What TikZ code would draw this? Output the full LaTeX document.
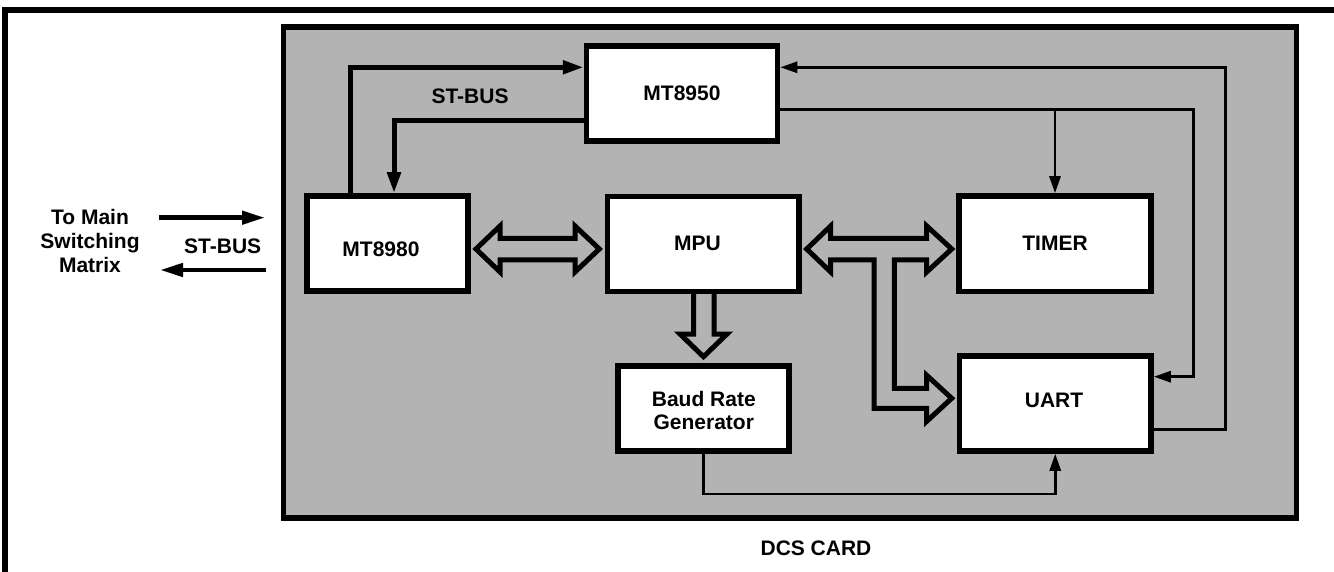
\documentclass[tikz,border=0pt]{standalone}
\usepackage{fontspec}
\setmainfont{Liberation Sans}
\usetikzlibrary{arrows.meta}
\definecolor{cardgrey}{RGB}{179,179,179}
\begin{document}
\begin{tikzpicture}[x=1pt,y=-1pt,
  lbl/.style={font=\fontsize{21}{24}\selectfont\bfseries, inner sep=0pt, align=center},
  blk/.style={draw, line width=5.5pt, fill=white, inner sep=0pt,
    font=\fontsize{21}{22.5}\selectfont\bfseries, align=center},
  bus/.style={line width=5pt, -{Triangle[length=21pt,width=13pt]}},
  ext/.style={line width=4.5pt, -{Triangle[length=23pt,width=13pt]}},
  sig/.style={line width=2.7pt, -{Triangle[length=17pt,width=11pt]}},
  hollow/.style={line width=5pt, line join=miter}
]
\useasboundingbox (0,0) rectangle (1334,572);
% outer frame
\draw[line width=5.3pt] (5,585) -- (5,10) -- (1345,10);
% card
\draw[line width=5.5pt, fill=cardgrey] (283.5,27) rectangle (1296.5,518);
% blocks
\node[blk, minimum width=191pt, minimum height=95pt] (m50) at (682,93.5) {MT8950};
\node[blk, minimum width=161pt, minimum height=95pt] (m80) at (387.5,243.5) {};
\node[lbl] (m80t) at (381,249.5) {MT8980};
\node[blk, minimum width=191.5pt, minimum height=95pt] (mpu) at (703.25,244) {};
\node[lbl] (mput) at (697.5,243) {MPU};
\node[blk, minimum width=192pt, minimum height=95.5pt] (timer) at (1055,243.75) {TIMER};
\node[blk, minimum width=191.5pt, minimum height=95pt] (uart) at (1055.25,403.5) {};
\node[lbl] (uartt) at (1054,400.5) {UART};
\node[blk, minimum width=171pt, minimum height=85pt] (baud) at (703.5,408.5) {};
\node[lbl, font=\fontsize{21}{22.4}\selectfont\bfseries] (baudt) at (703.8,410.5) {Baud Rate\\Generator};
% labels
\node[lbl] (stbus1) at (470,96.7) {ST-BUS};
\node[lbl] (stbus2) at (222.7,246.7) {ST-BUS};
\node[lbl] (tomain) at (90,240.5) {To Main\\Switching\\Matrix};
\node[lbl] (dcs) at (816,548.3) {DCS CARD};
% ST-BUS links between MT8980 and MT8950
\coordinate (c1) at (350,67.3);
\coordinate (c2) at (394,120.7);
\draw[bus] (m80.north -| c1) |- (m50.west |- c1);
\draw[bus] (m50.west |- c2) -| (m80.north -| c2);
% external ST-BUS
\coordinate (inA) at (159,217.7);
\coordinate (inB) at (265,217.7);
\coordinate (outA) at (266,270);
\coordinate (outB) at (160,270);
\draw[ext] (inA) -- (inB);
\draw[ext] (outA) -- (outB);
% thin signal lines
\coordinate (r1) at (1193.3,109.3);
\coordinate (r1b) at (1193.3,376.7);
\draw[sig] (m50.east |- r1) -| (r1b) -- (uart.east |- r1b);
\draw[sig] (timer.north |- r1) -- (timer.north);
\coordinate (r2) at (1225.3,67.3);
\coordinate (r2b) at (1225.3,429.3);
\draw[sig] (uart.east |- r2b) -- (r2b) |- (m50.east |- r2);
\coordinate (b1) at (703.5,494);
\draw[sig] (baud.south) -- (baud.south |- b1) -| (uart.south);
% hollow bus arrows
\draw[hollow] (476,249) -- (500,226) -- (500,238.3) -- (575,238.3) -- (575,226)
  -- (599.3,249) -- (575,272) -- (575,260) -- (500,260) -- (500,272) -- cycle;
\draw[hollow] (806.7,249) -- (830.7,226) -- (830.7,238.3) -- (926.7,238.3) -- (926.7,226)
  -- (951.7,249) -- (926.7,272) -- (926.7,260) -- (894.3,260) -- (894.3,388.3)
  -- (926.7,388.3) -- (926.7,375.3) -- (951.7,398.3) -- (926.7,421.3) -- (926.7,408.3)
  -- (874,408.3) -- (874,260) -- (830.7,260) -- (830.7,272) -- cycle;
\draw[hollow] (693.5,294) -- (693.5,334) -- (680,334) -- (703.5,356.7) -- (727,334)
  -- (714,334) -- (714,294);
\end{tikzpicture}
\end{document}
